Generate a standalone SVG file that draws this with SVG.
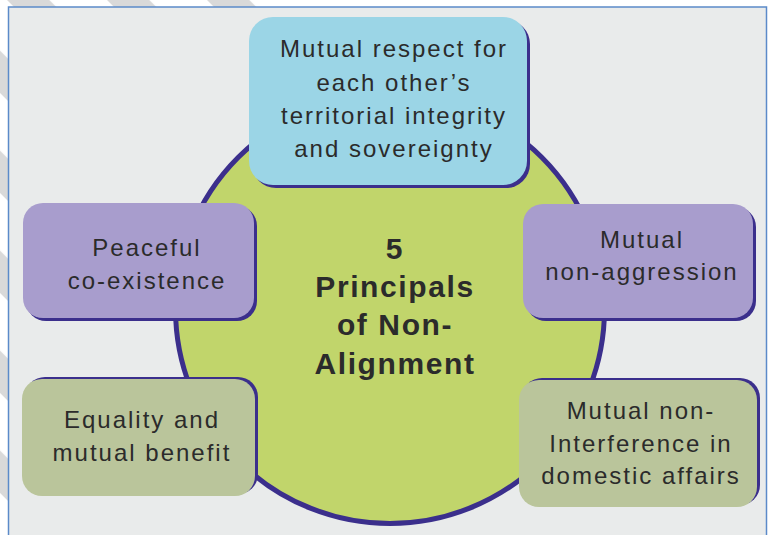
<svg xmlns="http://www.w3.org/2000/svg" width="768" height="535" viewBox="0 0 768 535">
  <style>
    .lbl { font-family: "Liberation Sans", Arial, sans-serif; font-size: 24px; letter-spacing: 2px; fill: #2b2b2b; text-anchor: middle; }
    .ttl { font-family: "Liberation Sans", Arial, sans-serif; font-size: 30px; font-weight: bold; letter-spacing: 1.6px; fill: #2b2b2b; text-anchor: middle; }
    .shadow { fill: #3b2f8c; }
    .blue { fill: #9bd5e6; }
    .purple { fill: #a89dcd; }
    .sage { fill: #bac59b; }
  </style>
  <defs>
    <pattern id="stripes" patternUnits="userSpaceOnUse" width="70.7" height="20" patternTransform="rotate(-45)">
      <rect x="5" y="0" width="30" height="20" fill="#d9d9d9"/>
    </pattern>
  </defs>
  <rect x="0" y="0" width="768" height="535" fill="#ffffff"/>
  <path d="M0,0 H260 V7 H8 V535 H0 Z" fill="url(#stripes)"/>
  <rect id="panel" x="8.5" y="7" width="758" height="540" fill="#e9ebeb" stroke="#5b8ac9" stroke-width="1.5"/>

  <g id="center">
    <circle cx="390" cy="309" r="214.5" fill="#c1d56b" stroke="#3b2f8c" stroke-width="5"/>
    <text class="ttl" x="395" y="259">5</text>
    <text class="ttl" x="395" y="297">Principals</text>
    <text class="ttl" x="395" y="335">of Non-</text>
    <text class="ttl" x="395" y="374">Alignment</text>
  </g>

  <g id="connectors"></g>

  <g id="node-top">
    <rect class="shadow" x="252" y="20" width="278" height="168" rx="24"/>
    <rect class="blue" x="249" y="17" width="278" height="168" rx="24"/>
    <text class="lbl" x="394" y="57">Mutual respect for</text>
    <text class="lbl" x="394" y="91">each other’s</text>
    <text class="lbl" x="394" y="124">territorial integrity</text>
    <text class="lbl" x="394" y="157">and sovereignty</text>
  </g>

  <g id="node-mid-left">
    <rect class="shadow" x="26" y="206" width="231" height="115" rx="20"/>
    <rect class="purple" x="23" y="203" width="231" height="115" rx="20"/>
    <text class="lbl" x="147" y="256">Peaceful</text>
    <text class="lbl" x="147" y="289">co-existence</text>
  </g>

  <g id="node-mid-right">
    <rect class="shadow" x="526" y="207" width="230" height="114" rx="20"/>
    <rect class="purple" x="523" y="204" width="230" height="114" rx="20"/>
    <text class="lbl" x="642" y="248">Mutual</text>
    <text class="lbl" x="642" y="280">non-aggression</text>
  </g>

  <g id="node-bottom-left">
    <rect class="shadow" x="25" y="377" width="233" height="117" rx="20"/>
    <rect class="sage" x="22" y="379" width="233" height="117" rx="20"/>
    <text class="lbl" x="142" y="428">Equality and</text>
    <text class="lbl" x="142" y="461">mutual benefit</text>
  </g>

  <g id="node-bottom-right">
    <rect class="shadow" x="522" y="378" width="238" height="127" rx="20"/>
    <rect class="sage" x="519" y="380" width="238" height="127" rx="20"/>
    <text class="lbl" x="641" y="419">Mutual non-</text>
    <text class="lbl" x="641" y="452">Interference in</text>
    <text class="lbl" x="641" y="484">domestic affairs</text>
  </g>
</svg>
